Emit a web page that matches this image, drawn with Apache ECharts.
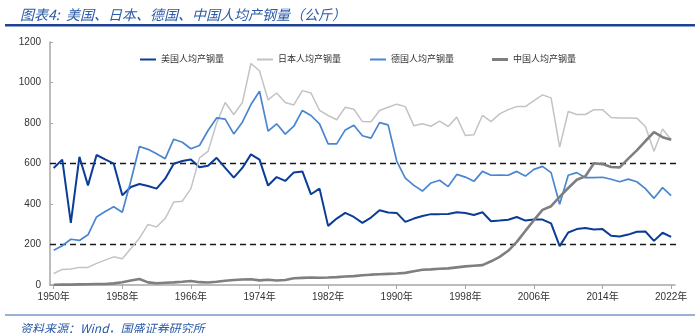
<!DOCTYPE html>
<html><head><meta charset="utf-8">
<script src="https://cdn.jsdelivr.net/npm/echarts@6/dist/echarts.min.js"></script>
<style>html,body{margin:0;padding:0;background:#fff}#c{width:700px;height:333px}</style>
</head><body><div id="c"></div>
<script>
const titleText = '图表4:  美国、日本、德国、中国人均产钢量（公斤）';
const sourceText = '资料来源：Wind，国盛证券研究所';
const seriesNames = ['美国人均产钢量', '日本人均产钢量', '德国人均产钢量', '中国人均产钢量'];
const years = [1950,1951,1952,1953,1954,1955,1956,1957,1958,1959,
  1960,1961,1962,1963,1964,1965,1966,1967,1968,1969,
  1970,1971,1972,1973,1974,1975,1976,1977,1978,1979,
  1980,1981,1982,1983,1984,1985,1986,1987,1988,1989,
  1990,1991,1992,1993,1994,1995,1996,1997,1998,1999,
  2000,2001,2002,2003,2004,2005,2006,2007,2008,2009,
  2010,2011,2012,2013,2014,2015,2016,2017,2018,2019,
  2020,2021,2022];
const usSteel = [578,619,307,633,492,642,620,599,443,484,
  499,489,476,525,599,612,620,581,589,628,
  578,530,578,645,619,491,533,514,556,561,
  448,476,292,328,356,336,307,333,369,358,
  356,312,328,341,350,350,351,359,356,346,
  359,315,318,322,336,318,323,323,304,192,
  259,276,282,274,276,243,240,249,263,264,
  218,258,238];
const japanSteel = [57,77,79,87,87,107,123,139,130,180,
  231,299,287,328,410,414,476,628,660,800,
  901,842,901,1094,1058,914,948,901,889,960,
  948,862,837,816,878,868,807,806,862,878,
  893,881,786,796,784,809,783,829,738,742,
  838,807,845,866,881,881,911,939,924,681,
  857,842,842,866,866,827,825,825,824,783,
  660,770,717];
const germanySteel = [172,194,226,220,248,336,363,386,359,515,
  684,670,648,624,720,705,673,689,763,825,
  819,746,804,891,957,760,796,745,784,862,
  837,796,697,697,766,789,737,725,802,791,
  612,528,492,464,504,517,486,546,533,512,
  561,542,543,542,561,538,571,586,555,399,
  542,555,530,530,532,522,510,523,510,476,
  428,481,441];
const chinaSteel = [1,2,2,3,4,5,5,8,14,22,
  30,13,9,11,13,16,20,14,12,16,
  21,25,27,28,23,26,22,25,33,35,
  37,36,37,39,42,44,48,51,53,55,
  57,60,68,75,77,80,82,87,92,95,
  98,117,139,169,213,267,320,371,389,435,
  479,520,537,601,597,583,581,624,665,711,
  755,730,717];
const xTickYears = [1950,1958,1966,1974,1982,1990,1998,2006,2014,2022];
const refLevels = [600, 200];
const xMin = 1949.57, xMax = 2022.45, refEnd = 2023.85;

const colors = ['#0B3C96', '#C3C3C3', '#4A86D0', '#7F7F7F'];
const widths = [2, 1.5, 1.7, 2.6];
const valueSets = [usSteel, japanSteel, germanySteel, chinaSteel];
const legendLefts = [135, 252, 365, 487];
const cjk = '"Liberation Sans", "Noto Sans CJK SC", sans-serif';

const chart = echarts.init(document.getElementById('c'), null, {renderer: 'canvas'});

const series = [];
refLevels.forEach((lv, i) => {
  series.push({
    name: 'ref' + i, type: 'line', symbol: 'none', clip: false, silent: true,
    data: [[xMin, lv], [refEnd, lv]],
    lineStyle: {color: '#1a1a1a', width: 1.5, type: [6, 4]}, z: 1
  });
});
valueSets.forEach((vals, i) => {
  series.push({
    name: seriesNames[i], type: 'line', symbol: 'none',
    data: years.map((y, j) => [y, vals[j]]),
    lineStyle: {color: colors[i], width: widths[i]},
    itemStyle: {color: colors[i]}, z: 2 + i
  });
});

chart.setOption({
  animation: false,
  backgroundColor: '#fff',
  title: [
    {text: titleText, left: 15, top: 3,
     textStyle: {fontSize: 14, fontStyle: 'italic', fontWeight: 'normal', color: '#2A5AA8', fontFamily: '"Noto Sans CJK SC", sans-serif'}},
    {text: sourceText, left: 15, top: 317,
     textStyle: {fontSize: 12, fontStyle: 'italic', fontWeight: 'normal', color: '#2A5AA8', fontFamily: '"Noto Sans CJK SC", sans-serif'}}
  ],
  graphic: [
    {type: 'rect', shape: {x: 5, y: 24, width: 690, height: 2.5}, style: {fill: '#1F4394'}},
    {type: 'rect', shape: {x: 5, y: 314.5, width: 690, height: 1}, style: {fill: '#3A62B0'}}
  ],
  legend: seriesNames.map((n, i) => ({
    data: [n], left: legendLefts[i], top: 50, icon: 'rect',
    itemWidth: 16, itemHeight: i === 3 ? 3 : 2, itemGap: 0,
    textStyle: {fontSize: 9, color: '#333', fontFamily: cjk}
  })),
  grid: {left: 50, right: 25, top: 42, bottom: 48, containLabel: false},
  xAxis: {
    type: 'value', min: xMin, max: xMax,
    splitLine: {show: false},
    axisLine: {show: true, lineStyle: {color: '#A6A6A6', width: 1.5}},
    axisTick: {show: true, customValues: xTickYears, length: 4, lineStyle: {color: '#A6A6A6'}},
    axisLabel: {customValues: xTickYears, formatter: v => v + '年', fontSize: 10, color: '#333', margin: 7, fontFamily: cjk}
  },
  yAxis: {
    type: 'value', min: 0, max: 1200, interval: 200,
    splitLine: {show: false},
    axisLine: {show: true, lineStyle: {color: '#A6A6A6', width: 1.5}},
    axisTick: {show: true, inside: true, length: 3, lineStyle: {color: '#A6A6A6'}},
    axisLabel: {formatter: v => String(v), fontSize: 10, color: '#333', margin: 9, fontFamily: cjk}
  },
  series: series
});
</script></body></html>
